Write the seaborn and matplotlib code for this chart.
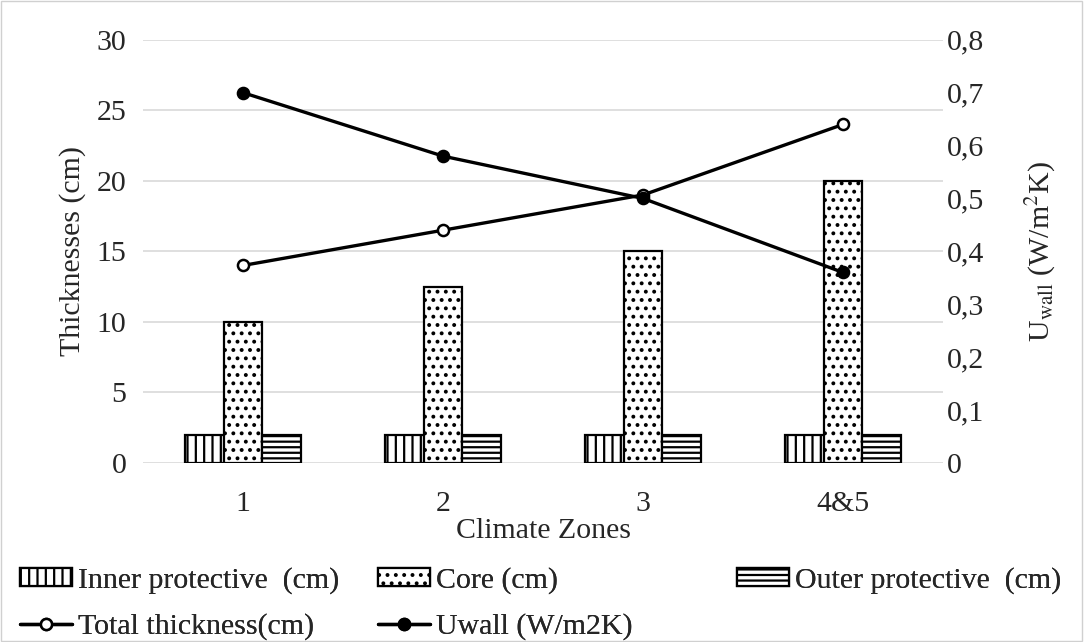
import pandas as pd
import seaborn as sns
import matplotlib.pyplot as plt
from matplotlib.ticker import FuncFormatter

zones = ["1", "2", "3", "4&5"]
inner = [2, 2, 2, 2]
core = [10, 12.5, 15, 20]
outer = [2, 2, 2, 2]
total = [14, 16.5, 19, 24]
uwall = [0.70, 0.58, 0.50, 0.36]

layer_names = ["Inner protective  (cm)", "Core (cm)", "Outer protective  (cm)"]
hatches = ["||", "..", "---"]

sns.set_style("white")
plt.rcParams["font.family"] = ["Liberation Serif", "DejaVu Serif"]
plt.rcParams["mathtext.fontset"] = "stix"
plt.rcParams["hatch.linewidth"] = 1.6
plt.rcParams["hatch.color"] = "black"

fs = 21.5

bars_df = pd.DataFrame({
    "zone": zones * 3,
    "value": inner + core + outer,
    "layer": [layer_names[0]] * 4 + [layer_names[1]] * 4 + [layer_names[2]] * 4,
})

fig = plt.figure(figsize=(10.84, 6.42), dpi=100)
ax = fig.add_axes([0.132, 0.279, 0.738, 0.659])

sns.barplot(data=bars_df, x="zone", y="value", hue="layer", order=zones,
            hue_order=layer_names, palette=["white"] * 3, edgecolor="black",
            linewidth=1.6, width=0.58, gap=0, errorbar=None, ax=ax,
            legend=False, zorder=2)
for cont, h in zip(ax.containers, hatches):
    for bar in cont:
        bar.set_hatch(h)
        bar.set_facecolor("white")
        bar.set_edgecolor("black")

sns.pointplot(x=zones, y=total, ax=ax, color="black", markers="o",
              errorbar=None, markersize=8, linewidth=2.4,
              markerfacecolor="white", markeredgecolor="black", zorder=5)
line_total = ax.lines[-1]

ax2 = ax.twinx()
sns.pointplot(x=zones, y=uwall, ax=ax2, color="black", markers="o",
              errorbar=None, markersize=8, linewidth=2.4, zorder=5)
line_u = ax2.lines[-1]

ax.set_xlim(-0.5, 3.5)
ax.set_ylim(0, 30)
ax.set_yticks(range(0, 31, 5))
ax2.set_ylim(0, 0.8)
ax2.set_yticks([i / 10 for i in range(0, 9)])
ax2.yaxis.set_major_formatter(FuncFormatter(lambda v, p: ("%g" % round(v, 1)).replace(".", ",")))

ax.grid(axis="y", color="#d9d9d9", linewidth=1.2, zorder=0)
ax.set_axisbelow(True)
for a in (ax, ax2):
    for s in a.spines.values():
        s.set_visible(False)
    a.tick_params(length=0, labelsize=fs)
ax.tick_params(axis="y", pad=12)
ax2.tick_params(axis="y", pad=3)
ax.tick_params(axis="x", pad=20)

ax.set_xlabel("Climate Zones", fontsize=fs, labelpad=1)
ax.set_ylabel("Thicknesses (cm)", fontsize=fs, labelpad=8)
ax2.set_ylabel(r"U$_{\mathrm{wall}}$ (W/m$^{2}$K)", fontsize=fs, labelpad=28)

# three legend columns placed where the reference has them
leg_kw = dict(loc="upper left", frameon=False, fontsize=fs, handlelength=1.75,
              handleheight=0.55, handletextpad=0.2, labelspacing=0.65,
              borderpad=0.0, borderaxespad=0.0)
top = 1 - 567 / 642
col_items = [
    ([ax.containers[0][0], line_total], [layer_names[0], "Total thickness(cm)"], 20),
    ([ax.containers[1][0], line_u], [layer_names[1], "Uwall (W/m2K)"], 378),
    ([ax.containers[2][0]], [layer_names[2]], 737),
]
for hs, ls, x0 in col_items:
    leg = fig.legend(hs, ls, bbox_to_anchor=(x0 / 1084, top), **leg_kw)
    fig.add_artist(leg)

fig.patches.append(plt.Rectangle((0.001, 0.001), 0.997, 0.997, transform=fig.transFigure,
                                 fill=False, edgecolor="#d0d0d0", linewidth=1))

fig.savefig("out.png", dpi=100)
